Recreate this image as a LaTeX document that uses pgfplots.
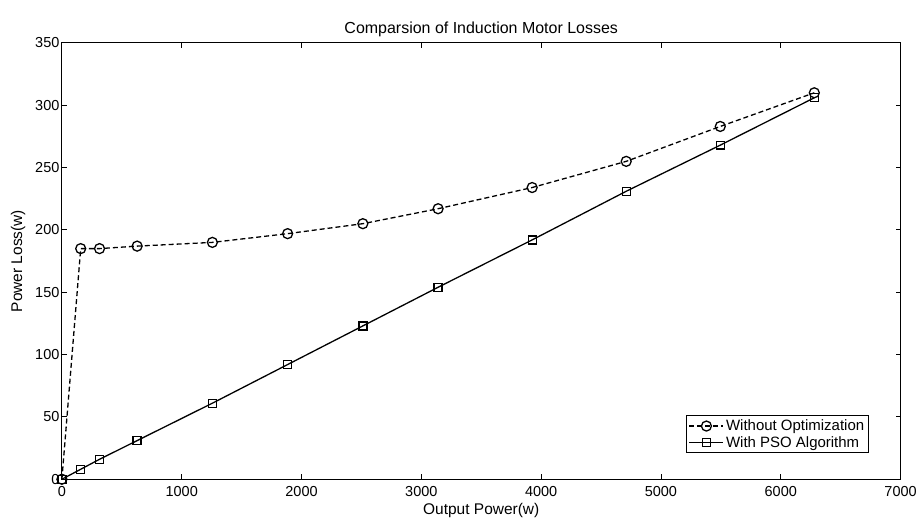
\documentclass[border=0pt]{standalone}
\usepackage{pgfplots}
\pgfplotsset{compat=1.18}
\usepackage{fontspec}
\setmainfont{Liberation Sans}
\begin{document}
\begin{tikzpicture}
\begin{axis}[
    scale only axis,
    width=840pt, height=437pt,
    xmin=0, xmax=7000, ymin=0, ymax=350,
    xtick={0,1000,...,7000}, ytick={0,50,...,350},
    tick align=inside, major tick length=5pt,
    scaled x ticks=false,
    xticklabel style={/pgf/number format/1000 sep={}, yshift=-4pt},
    yticklabel style={xshift=1pt},
    /pgf/number format/assume math mode=true,
    tick label style={font=\fontsize{14.5}{16}\selectfont},
    label style={font=\fontsize{15.5}{17}\selectfont},
    title style={font=\fontsize{16}{18}\selectfont, yshift=-3pt},
    title={Comparsion of Induction Motor Losses},
    xlabel={Output Power(w)}, ylabel={Power Loss(w)},
    xlabel style={yshift=1pt}, ylabel style={yshift=3pt},
    axis line style={line width=1pt},
    every tick/.style={line width=0.9pt},
    legend style={at={(0.962,0.06)}, anchor=south east, draw=black, line width=1pt,
        font=\fontsize{15}{17}\selectfont, row sep=0pt, inner sep=2pt},
    legend cell align=left,
    legend image code/.code={
        \draw[mark repeat=2, mark phase=2] plot coordinates {(0pt,0pt) (17pt,0pt) (34pt,0pt)};
    },
]
\addplot[black, dash pattern=on 5pt off 3pt, line width=1.3pt, mark=o, mark size=5pt, mark options={solid}] coordinates {
    (0,0) (157,185) (314,185) (628,187) (1256,190) (1884,197) (2512,205)
    (3140,217) (3925,234) (4710,255) (5495,283) (6280,310)
};
\addplot[black, solid, line width=1.3pt, mark=square, mark size=4pt] coordinates {
    (0,0) (157,8) (314,16) (628,31) (1256,61) (1884,92) (2512,123)
    (3140,154) (3925,192) (4710,231) (5495,268) (6280,306)
};
\legend{Without Optimization, With PSO Algorithm}
\end{axis}
\useasboundingbox ([xshift=-62pt,yshift=-41pt]current axis.south west) rectangle ([xshift=18pt,yshift=43pt]current axis.north east);
\end{tikzpicture}
\end{document}
